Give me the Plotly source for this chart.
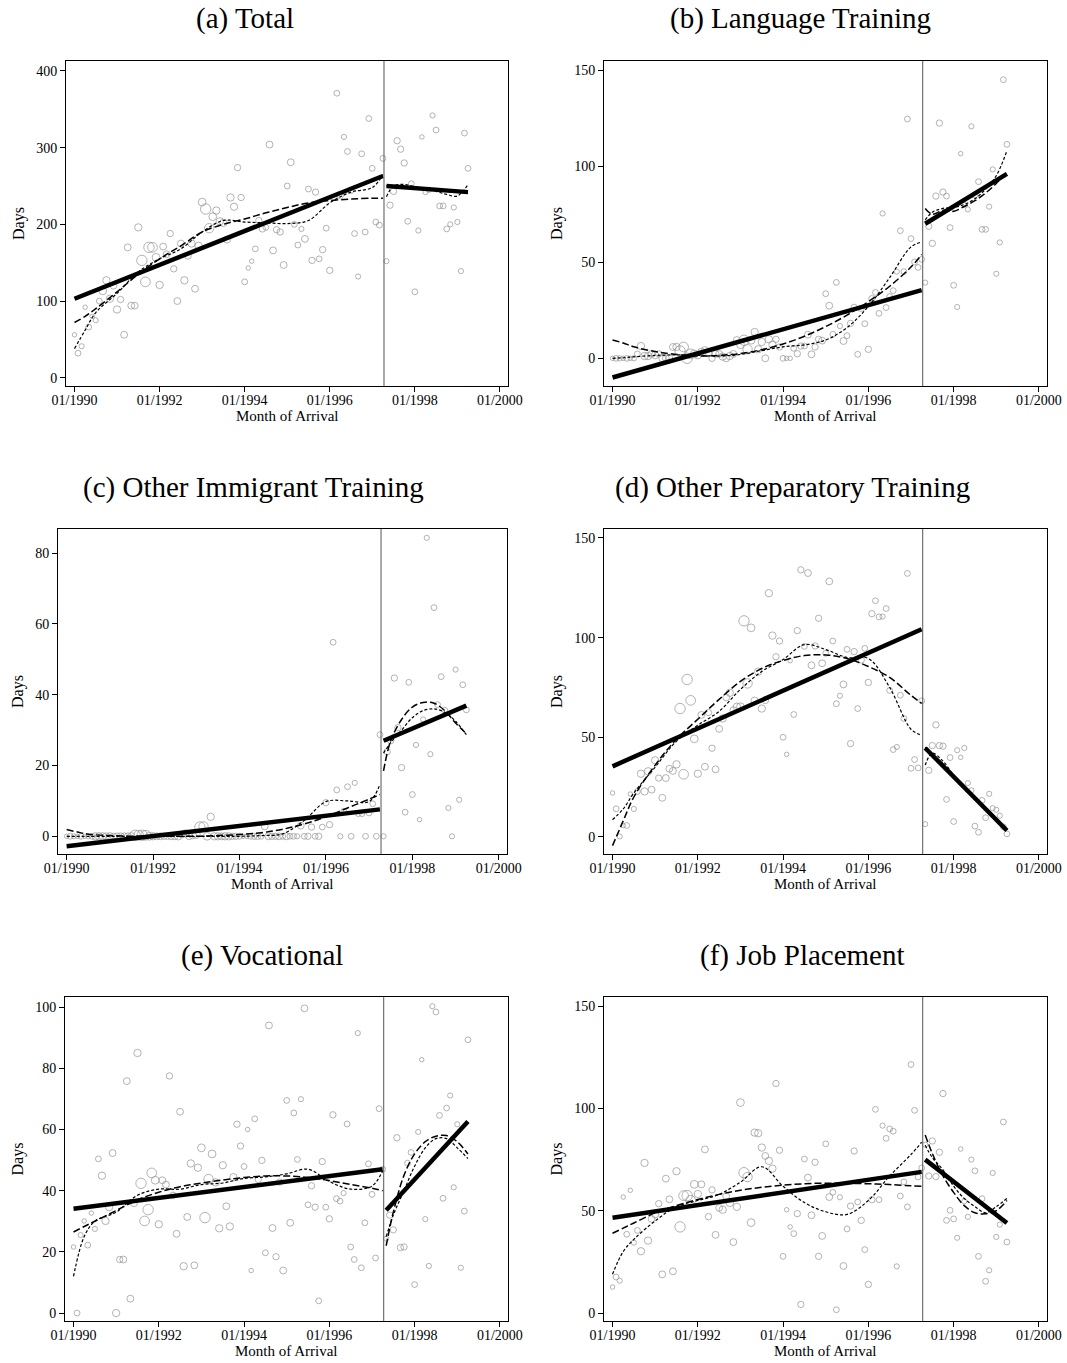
import plotly.graph_objects as go

# ---------------------------------------------------------------------------
# Data: monthly cohorts from 01/1990 (month 0) to 04/1999 (month 111)
# ---------------------------------------------------------------------------
MONTHS = list(range(112))
CUTOFF_MONTH = 87.3          # reform date, between 04/1997 and 05/1997
LAST_PRE_MONTH = 87

YEAR_TICKS = [1990, 1992, 1994, 1996, 1998, 2000]
YEAR_LABELS = ["01/1990", "01/1992", "01/1994", "01/1996", "01/1998", "01/2000"]

# relative cohort sizes (used for marker area)
CELL_COUNTS = [
    3, 5, 4, 3, 5, 3, 4, 5, 8, 8,
    8, 7, 8, 6, 7, 7, 7, 7, 8, 16,
    14, 16, 14, 9, 8, 7, 7, 6, 6, 7,
    7, 8, 7, 8, 7, 8, 9, 16, 13, 9,
    8, 8, 8, 7, 8, 8, 6, 6, 5, 3,
    3, 5, 6, 6, 5, 7, 7, 6, 6, 7,
    5, 7, 5, 5, 4, 7, 5, 6, 6, 5,
    6, 5, 6, 6, 5, 5, 4, 5, 5, 5,
    4, 5, 5, 5, 5, 5, 5, 5, 4, 6,
    6, 6, 6, 6, 5, 5, 5, 4, 3, 4,
    4, 4, 5, 5, 5, 5, 4, 4, 4, 4,
    5, 5,
]

TOTAL = [
    56, 32, 41, 92, 66, 80, 75, 100, 113, 127,
    103, 120, 89, 102, 56, 170, 94, 94, 196, 153,
    125, 170, 170, 157, 121, 171, 161, 188, 142, 100,
    175, 127, 159, 175, 116, 172, 229, 220, 195, 210,
    218, 204, 202, 180, 235, 223, 274, 235, 125, 143,
    152, 168, 205, 194, 196, 304, 166, 193, 190, 147,
    250, 281, 200, 173, 194, 181, 246, 153, 242, 155,
    167, 195, 140, 235, 371, 237, 314, 295, 244, 188,
    132, 292, 190, 338, 273, 203, 199, 286,
    152, 225, 243, 309, 298, 280, 204, 253, 112, 192,
    314, 242, 245, 342, 323, 224, 224, 194, 200, 222,
    203, 139, 319, 273,
]

LANGUAGE = [
    0, 0, 0, 0, 0, 0, 0, 2.3, 6.4, 1.2,
    1.2, 2.3, 1.6, 2.3, 0, 0, 0, 5.9, 5.9, 3.8,
    5.9, 0, 2.3, 2.3, 1.6, 3.5, 4.3, 2.6, 0, 2.3,
    2.3, 0.9, 0, 1.2, 2.3, 9.4, 7.1, 9.4, 4.7, 9.4,
    13.7, 4.7, 8.5, 0, 9.9, 7.1, 9.9, 5.9, 0, 0,
    0, 5.2, 2.4, 6.4, 6.4, 12.3, 2.1, 5.9, 9.9, 9.2,
    33.6, 27.4, 12.5, 39.5, 16.8, 9.0, 11.8, 18.2, 26.5, 2.1,
    26.0, 18.0, 4.7, 31.0, 34.3, 23.4, 75.4, 26.4, 32.1, 35.2,
    45.1, 66.4, 45.1, 124.5, 62.3, 50.1, 47.3, 51.5,
    39.4, 68.7, 59.8, 84.4, 122.4, 86.5, 84.4, 68.0, 38.0, 26.7,
    106.5, 80, 77.5, 120.7, 85, 91.9, 67.1, 67.1, 78.9, 98.3,
    44.0, 60.3, 145, 111.3,
]

OTHER_IMMIGRANT = [
    0, 0, 0, 0, 0, 0, 0, 0, 0, 0,
    0, 0, 0, 0, 0, 0, 0, 0, 0, 0.3,
    0.3, 0.3, 0.3, 0, 0, 0, 0, 0, 0, 0,
    0, 0, 0.5, 0.8, 0, 0.3, 0.5, 2.6, 2.8, 0,
    5.5, 0, 0, 0, 0, 0, 0, 0, 0, 0,
    0, 0, 0, 0, 0, 2.8, 0, 0, 0, 0,
    0, 0, 0, 0, 0, 3.0, 0, 0, 2.6, 0,
    0, 2.6, 9.5, 3.3, 54.8, 13.1, 0, 7.1, 14.0, 0,
    15.1, 6.4, 6.4, 0, 6.6, 9.2, 0, 28.7,
    0, 23.9, 27, 44.7, 30.7, 19.4, 6.8, 43.5, 11.8, 25.8,
    4.7, 33, 84.3, 23.2, 64.6, 37.2, 45.1, 35.6, 8.0, 0,
    47.1, 10.3, 42.8, 35.7,
]

OTHER_PREPARATORY = [
    22.0, 14.1, 0.2, 5.7, 5.7, 21.5, 14, 22.8, 31.7, 22.8,
    32.9, 23.7, 38.4, 29.5, 19.6, 29.5, 34.2, 33.1, 36.4, 64.4,
    31.4, 79, 68.5, 49.2, 31.7, 61.2, 35.2, 62.4, 44.5, 33.9,
    54.2, 59.4, 70, 72.3, 63.6, 65.3, 65.3, 108.4, 77, 104.9,
    68.3, 82.9, 64.4, 68.6, 122.3, 101, 90.4, 98.3, 50, 41.4,
    88.4, 61.4, 103.5, 134, 95.6, 132.4, 86.1, 95.8, 109.7, 87.1,
    92.1, 128.2, 98.3, 66.8, 70.8, 76.5, 94.1, 46.8, 93, 64.4,
    88.8, 94.6, 77.5, 112, 118.5, 110.4, 110.6, 114.6, 73.5, 43.8,
    45.1, 71.1, 59.4, 132.2, 34.4, 38.8, 34.6, 68.3,
    6.4, 33.4, 45.8, 56.2, 45.8, 45.5, 18.8, 39.8, 7.7, 43.5,
    39.9, 44.6, 27, 23.3, 5.4, 2.3, 18.3, 9.6, 21.6, 14.4,
    13.6, 10.6, 5, 1.5,
]

VOCATIONAL = [
    21.6, 0, 25.5, 30.1, 22.2, 32.7, 27.5, 50.4, 44.9, 30.1,
    34.6, 52.3, 0, 17.5, 17.5, 75.8, 4.7, 35.9, 85, 42.4,
    30.1, 33.8, 45.8, 43.4, 29.0, 43.4, 42, 77.5, 38.5, 25.9,
    65.8, 15.3, 31.4, 48.9, 15.6, 47.5, 54, 31.2, 43.8, 52,
    42.7, 27.7, 48.3, 34.9, 28.3, 44.4, 61.7, 54.6, 47.9, 60,
    13.9, 63.5, 43.7, 49.9, 19.7, 94, 27.8, 18.4, 42.8, 13.9,
    69.5, 29.5, 65.4, 50.2, 69.9, 99.6, 35.4, 41.6, 34.6, 4,
    49.5, 34.6, 30.8, 64.8, 37.4, 36.6, 39.2, 61.8, 21.6, 17.5,
    91.5, 14.8, 29.5, 48.8, 38.8, 18, 66.8, 47,
    24.3, 32, 27.2, 57.3, 21.4, 21.6, 49, 52.5, 9.3, 59.2,
    82.8, 30.7, 15.4, 100.3, 98.4, 64.6, 37.5, 67, 71.1, 41.1,
    61.7, 14.8, 33.3, 89.3,
]

JOB_PLACEMENT = [
    12.7, 17.6, 15.8, 56.7, 38.5, 60, 34.4, 40.4, 30.2, 73.4,
    35.4, 46, 48.3, 53.5, 18.9, 65.7, 55.6, 20.4, 69.3, 42.1,
    57.4, 57.4, 55.1, 62.9, 58.2, 62.9, 80, 47.1, 60.2, 38.2,
    51.4, 50.5, 57.1, 53.8, 34.7, 51.9, 102.9, 68.6, 66.5, 44.2,
    88.2, 87.9, 80.9, 76.8, 74.4, 70.6, 112.2, 79.6, 27.7, 50.5,
    42.1, 38.8, 48.6, 4.2, 75.3, 66.2, 47.8, 73.7, 27.7, 37.7,
    82.7, 56.7, 59, 1.6, 56.6, 23, 41.1, 52.3, 79.2, 54.3,
    45.3, 31, 14, 55.4, 99.6, 55.4, 91.6, 85.4, 90, 88.9,
    22.8, 57.2, 64.1, 51.9, 121.5, 99.1, 66.5, 70.9,
    82.3, 67, 84.1, 66.7, 78.6, 107.3, 45.3, 50.2, 46, 36.8,
    80.2, 54.6, 47, 75, 69.5, 27.7, 55.9, 15.5, 20.9, 68.5,
    37.2, 43.2, 93.4, 34.7,
]

# Linear fits: [pre start, pre end, post start, post end]
TOTAL_LINEAR = [103, 263, 250, 242]
LANGUAGE_LINEAR = [-10, 35.5, 70, 96]
OTHER_IMMIGRANT_LINEAR = [-2.8, 7.6, 27, 36.9]
OTHER_PREPARATORY_LINEAR = [35.4, 104.2, 44.6, 3.2]
VOCATIONAL_LINEAR = [34.1, 47.0, 33.6, 62.6]
JOB_PLACEMENT_LINEAR = [46.6, 69, 75, 44]

# Flexible fits evaluated at knot years (dashed = smooth, dotted = wiggly)
PRE_KNOTS = [1990, 1990.25, 1990.5, 1991, 1991.5, 1992, 1992.5, 1993, 1993.5,
             1994, 1994.5, 1995, 1995.5, 1996, 1996.5, 1997, 1997.25]
POST_KNOTS = [1997.333, 1997.5, 1997.75, 1998, 1998.25, 1998.5, 1998.75, 1999, 1999.25]

TOTAL_DASH_PRE = [72, 80, 90, 112, 135, 155, 172, 190, 200, 207, 215, 222, 228, 231, 233, 234, 234]
TOTAL_DOT_PRE = [38, 62, 85, 110, 138, 155, 168, 190, 205, 203, 202, 201, 205, 228, 242, 248, 265]
TOTAL_DASH_POST = [250, 250, 249, 247, 246, 245, 243, 242, 241]
TOTAL_DOT_POST = [236, 250, 252, 249, 246, 243, 239, 237, 252]

LANGUAGE_DASH_PRE = [9.5, 8, 6, 3.5, 2, 1.2, 1.5, 2.5, 4.5, 7.5, 11.5, 16.5, 22.5, 29.5, 37.5, 47.5, 54]
LANGUAGE_DOT_PRE = [0, 0.3, 0.8, 1.5, 1.8, 1.5, 1.2, 2, 4, 6, 7, 9.5, 16, 27, 42, 58, 60.5]
LANGUAGE_DASH_POST = [78, 75, 77, 76.5, 79, 82, 86, 91, 97]
LANGUAGE_DOT_POST = [72, 76, 78, 78.5, 80, 83, 88, 95, 108]

OTHER_IMMIGRANT_DASH_PRE = [1.9, 1.2, 0.6, 0.2, 0, 0, 0, 0, 0.2, 0.5, 1, 2, 3.5, 5.5, 8, 10.5, 11.8]
OTHER_IMMIGRANT_DOT_PRE = [0, 0, 0, 0, 0, 0, 0, 0, 0, 0, 0.2, 0.7, 4.5, 9.8, 10, 9.8, 14.7]
OTHER_IMMIGRANT_DASH_POST = [18.5, 27, 33, 36.5, 37.8, 37.6, 35.5, 32, 29]
OTHER_IMMIGRANT_DOT_POST = [23.5, 26.5, 30, 33.5, 35.5, 36, 35, 32.5, 28.7]

OTHER_PREPARATORY_DASH_PRE = [-4.4, 8, 20, 36, 49, 59, 69, 78, 84.5, 88.5, 91, 91.3, 89.5, 85.5, 80, 71, 67]
OTHER_PREPARATORY_DOT_PRE = [8.6, 14, 22, 35, 48, 56, 63, 74, 83, 89, 96.5, 94, 90, 89.5, 75, 54, 51]
OTHER_PREPARATORY_DASH_POST = [45, 41.5, 36.5, 31, 25.5, 20, 14.5, 9, 3.5]
OTHER_PREPARATORY_DOT_POST = [36, 42, 38, 31, 25.5, 20, 14.5, 9, 3.5]

VOCATIONAL_DASH_PRE = [26.5, 28.3, 30, 33.5, 37, 39.5, 41.3, 42.5, 43.5, 44.3, 44.8, 44.8, 44.3, 43.3, 42, 40.8, 40]
VOCATIONAL_DOT_PRE = [12, 25, 30, 33, 38.5, 40.5, 40.5, 42, 42.5, 44, 44.5, 45.5, 47, 43, 40.5, 41.5, 46.5]
VOCATIONAL_DASH_POST = [22, 33, 45, 52, 56, 57.8, 58, 56, 52]
VOCATIONAL_DOT_POST = [25, 32, 40, 48, 54, 57, 57, 54, 50.5]

JOB_PLACEMENT_DASH_PRE = [39, 41.5, 44, 49, 52.5, 55.5, 58, 60, 61.5, 62.5, 63.2, 63.5, 63.4, 63.2, 62.8, 62.2, 62]
JOB_PLACEMENT_DOT_PRE = [19, 30, 36, 45, 52, 55, 58, 64, 71.5, 62, 54, 49.5, 48.2, 55, 67, 77.5, 83.5]
JOB_PLACEMENT_DASH_POST = [87, 78, 67, 59, 52.5, 49, 48.5, 50, 55]
JOB_PLACEMENT_DOT_POST = [82, 76, 70, 62, 56, 52, 49, 52, 56]

# ---------------------------------------------------------------------------
# Layout geometry (pixels of the 1067 x 1363 page)
# ---------------------------------------------------------------------------
W, H = 1067, 1363
SERIF = "Liberation Serif, Times New Roman, serif"

PANELS = [
    dict(title="(a) Total", values=TOTAL, linear=TOTAL_LINEAR,
         curves=(TOTAL_DASH_PRE, TOTAL_DOT_PRE, TOTAL_DASH_POST, TOTAL_DOT_POST),
         box=(66, 508, 61, 386), yrange=[-10.8, 413], yticks=[0, 100, 200, 300, 400],
         title_x=245, title_y=18, days_standoff=7),
    dict(title="(b) Language Training", values=LANGUAGE, linear=LANGUAGE_LINEAR,
         curves=(LANGUAGE_DASH_PRE, LANGUAGE_DOT_PRE, LANGUAGE_DASH_POST, LANGUAGE_DOT_POST),
         box=(604, 1047, 61, 386), yrange=[-14.4, 154.7], yticks=[0, 50, 100, 150],
         title_x=800, title_y=18, days_standoff=7),
    dict(title="(c) Other Immigrant Training", values=OTHER_IMMIGRANT, linear=OTHER_IMMIGRANT_LINEAR,
         curves=(OTHER_IMMIGRANT_DASH_PRE, OTHER_IMMIGRANT_DOT_PRE,
                 OTHER_IMMIGRANT_DASH_POST, OTHER_IMMIGRANT_DOT_POST),
         box=(58, 507, 529, 854), yrange=[-5.0, 86.8], yticks=[0, 20, 40, 60, 80],
         title_x=253, title_y=487, days_standoff=7),
    dict(title="(d) Other Preparatory Training", values=OTHER_PREPARATORY, linear=OTHER_PREPARATORY_LINEAR,
         curves=(OTHER_PREPARATORY_DASH_PRE, OTHER_PREPARATORY_DOT_PRE,
                 OTHER_PREPARATORY_DASH_POST, OTHER_PREPARATORY_DOT_POST),
         box=(604, 1047, 529, 854), yrange=[-8.6, 154.5], yticks=[0, 50, 100, 150],
         title_x=792, title_y=487, days_standoff=7),
    dict(title="(e) Vocational", values=VOCATIONAL, linear=VOCATIONAL_LINEAR,
         curves=(VOCATIONAL_DASH_PRE, VOCATIONAL_DOT_PRE, VOCATIONAL_DASH_POST, VOCATIONAL_DOT_POST),
         box=(65, 508, 997, 1321), yrange=[-2.6, 103.3], yticks=[0, 20, 40, 60, 80, 100],
         title_x=262, title_y=955, days_standoff=7),
    dict(title="(f) Job Placement", values=JOB_PLACEMENT, linear=JOB_PLACEMENT_LINEAR,
         curves=(JOB_PLACEMENT_DASH_PRE, JOB_PLACEMENT_DOT_PRE,
                 JOB_PLACEMENT_DASH_POST, JOB_PLACEMENT_DOT_POST),
         box=(604, 1047, 997, 1321), yrange=[-3.9, 154.5], yticks=[0, 50, 100, 150],
         title_x=802, title_y=955, days_standoff=7),
]

X_RANGE = [1989.80, 2000.19]


def month_to_year(m):
    return 1990 + m / 12.0


years = [month_to_year(m) for m in MONTHS]
marker_sizes = [2.6 * c ** 0.5 for c in CELL_COUNTS]
x_pre_end = month_to_year(LAST_PRE_MONTH)
x_post_start = month_to_year(LAST_PRE_MONTH + 1)
x_post_end = month_to_year(MONTHS[-1])
x_cut = month_to_year(CUTOFF_MONTH)

fig = go.Figure()
layout = dict(
    width=W, height=H, margin=dict(l=0, r=0, t=0, b=0),
    paper_bgcolor="white", plot_bgcolor="white", showlegend=False,
    font=dict(family=SERIF, color="black"),
)
annotations = []
shapes = []

for k, p in enumerate(PANELS, start=1):
    xa = "x" if k == 1 else f"x{k}"
    ya = "y" if k == 1 else f"y{k}"
    left, right, top, bottom = p["box"]

    axis_common = dict(
        showgrid=False, zeroline=False, showline=True, mirror=True,
        linecolor="black", linewidth=1, ticks="outside", ticklen=5,
        tickwidth=1, tickcolor="black", automargin=False,
        tickfont=dict(family=SERIF, size=14, color="black"),
    )
    layout["xaxis" if k == 1 else f"xaxis{k}"] = dict(
        axis_common, domain=[left / W, right / W], range=X_RANGE,
        tickvals=YEAR_TICKS, ticktext=YEAR_LABELS, anchor=ya,
        ticklabelstandoff=-4,
    )
    layout["yaxis" if k == 1 else f"yaxis{k}"] = dict(
        axis_common, domain=[1 - bottom / H, 1 - top / H], range=p["yrange"],
        tickvals=p["yticks"], ticktext=[str(v) for v in p["yticks"]], anchor=xa,
        title=dict(text="Days", standoff=p["days_standoff"],
                   font=dict(family=SERIF, size=16, color="black")),
    )

    vals = p["values"]
    # cohort means
    fig.add_trace(go.Scatter(
        x=years, y=vals, mode="markers", xaxis=xa, yaxis=ya,
        marker=dict(symbol="circle-open", size=marker_sizes,
                    color="#939393", line=dict(width=1, color="#939393")),
    ))

    dash_pre, dot_pre, dash_post, dot_post = p["curves"]
    for kx, ky in ((PRE_KNOTS, dash_pre), (POST_KNOTS, dash_post)):
        fig.add_trace(go.Scatter(
            x=kx, y=ky, mode="lines", xaxis=xa, yaxis=ya,
            line=dict(color="black", width=1.5, dash="7px,3px",
                      shape="spline", smoothing=1.0),
        ))
    for kx, ky in ((PRE_KNOTS, dot_pre), (POST_KNOTS, dot_post)):
        fig.add_trace(go.Scatter(
            x=kx, y=ky, mode="lines", xaxis=xa, yaxis=ya,
            line=dict(color="black", width=1.2, dash="3px,2px",
                      shape="spline", smoothing=1.0),
        ))

    lin = p["linear"]
    fig.add_trace(go.Scatter(
        x=[1990, x_pre_end], y=[lin[0], lin[1]], mode="lines",
        xaxis=xa, yaxis=ya, line=dict(color="black", width=4.5),
    ))
    fig.add_trace(go.Scatter(
        x=[x_post_start, x_post_end], y=[lin[2], lin[3]], mode="lines",
        xaxis=xa, yaxis=ya, line=dict(color="black", width=4.5),
    ))

    # reform date
    shapes.append(dict(type="line", xref=xa, yref=f"{ya} domain",
                       x0=x_cut, x1=x_cut, y0=0, y1=1,
                       line=dict(color="#555555", width=1)))

    annotations.append(dict(
        text=p["title"], xref="paper", yref="paper",
        x=p["title_x"] / W, y=1 - p["title_y"] / H,
        xanchor="center", yanchor="middle", showarrow=False,
        font=dict(family=SERIF, size=29, color="black"),
    ))
    annotations.append(dict(
        text="Month of Arrival", xref="paper", yref="paper",
        x=(left + right) / 2 / W, y=1 - (bottom + 30) / H,
        xanchor="center", yanchor="middle", showarrow=False,
        font=dict(family=SERIF, size=15, color="black"),
    ))

layout["annotations"] = annotations
layout["shapes"] = shapes
fig.update_layout(**layout)

fig.write_html("out.html", config={"displayModeBar": False})
